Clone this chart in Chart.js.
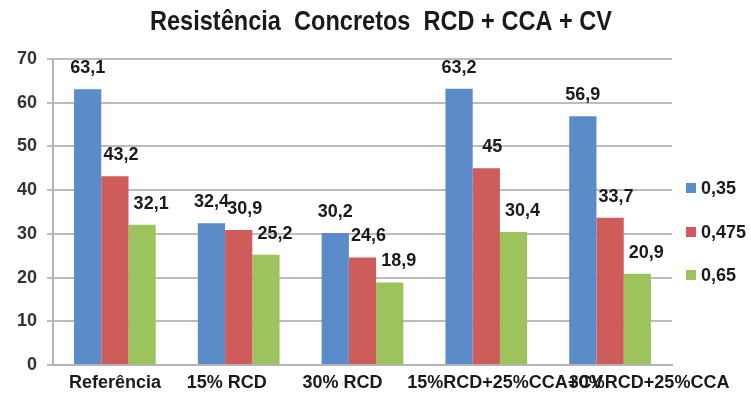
<!DOCTYPE html>
<html>
<head>
<meta charset="utf-8">
<script src="https://cdn.jsdelivr.net/npm/chart.js@4/dist/chart.umd.min.js"></script>
<style>
	html, body { margin: 0; padding: 0; background: #fff; }
	#wrap { width: 751px; height: 396px; }
</style>
</head>
<body>
<div id="wrap"><canvas id="chart" width="751" height="396"></canvas></div>
<script>
// data
const categories = ['Referência', '15% RCD', '30% RCD', '15%RCD+25%CCA+CV', '30%RCD+25%CCA']
const series035 = [63.1, 32.4, 30.2, 63.2, 56.9]
const series0475 = [43.2, 30.9, 24.6, 45, 33.7]
const series065 = [32.1, 25.2, 18.9, 30.4, 20.9]
const seriesNames = ['0,35', '0,475', '0,65']
const yMin = 0, yMax = 70, yStep = 10
const chartTitle = 'Resistência  Concretos  RCD + CCA + CV'

const colors = ['#5b8bc9', '#cd5c5a', '#9dc35c']
const FONT = '"Liberation Sans", Arial, sans-serif'

const fmt = v => String(v).replace('.', ',')

// title, value labels, category labels and legend are painted by hand
const extras = {
	id: 'extras',
	afterDatasetsDraw(chart) {
		const ctx = chart.ctx
		ctx.save()
		ctx.font = 'bold 18px ' + FONT
		ctx.fillStyle = '#1a1a1a'
		ctx.textAlign = 'center'
		ctx.textBaseline = 'middle'
		const shift = [0, 6, 9]
		chart.data.datasets.forEach((ds, i) => {
			chart.getDatasetMeta(i).data.forEach((bar, j) => {
				ctx.fillText(fmt(ds.data[j]), bar.x + shift[i], bar.y - 21)
			})
		})

		// category labels, nudged like in the original sheet
		const xs = chart.scales.x
		const nudge = [0, -12, -20, 19, 39]
		chart.data.labels.forEach((lab, i) => {
			ctx.fillText(lab, xs.getPixelForTick(i) + nudge[i], xs.top + 18)
		})

		// title, squeezed to look like the condensed original
		ctx.font = 'bold 27px ' + FONT
		const w = ctx.measureText(chartTitle).width
		ctx.save()
		ctx.translate(381, 23)
		ctx.scale(462 / w, 1)
		ctx.fillText(chartTitle, 0, 0)
		ctx.restore()

		// legend
		const ly = [189, 233, 276]
		ctx.font = 'bold 18px ' + FONT
		ctx.textAlign = 'left'
		chart.data.datasets.forEach((ds, i) => {
			ctx.fillStyle = ds.backgroundColor
			ctx.fillRect(686, ly[i] - 6, 10, 10)
			ctx.fillStyle = '#1a1a1a'
			ctx.fillText(ds.label, 701, ly[i])
		})
		ctx.restore()
	}
}

new Chart(document.getElementById('chart'), {
	type: 'bar',
	data: {
		labels: categories,
		datasets: [series035, series0475, series065].map((d, i) => ({
			label: seriesNames[i],
			data: d,
			backgroundColor: colors[i],
			borderWidth: 0,
			categoryPercentage: 0.66,
			barPercentage: 1
		}))
	},
	options: {
		responsive: false,
		animation: false,
		devicePixelRatio: 1,
		layout: { padding: { top: 59, right: 79, left: 0, bottom: 0 } },
		plugins: {
			legend: { display: false },
			title: { display: false },
			tooltip: { enabled: false }
		},
		scales: {
			x: {
				grid: { display: false, drawTicks: false },
				border: { display: true, color: '#b4b4b4', width: 2 },
				ticks: { display: false, autoSkip: false },
				afterFit: s => { s.height = 31 }
			},
			y: {
				min: yMin,
				max: yMax,
				ticks: {
					stepSize: yStep,
					padding: 10,
					color: '#333',
					font: { family: FONT, size: 18, weight: 'bold' }
				},
				grid: { color: '#bcbcbc', lineWidth: 2, tickLength: 6 },
				border: { display: true, color: '#b4b4b4', width: 2 },
				afterFit: s => { s.width = 53 }
			}
		}
	},
	plugins: [extras]
})
</script>
</body>
</html>
